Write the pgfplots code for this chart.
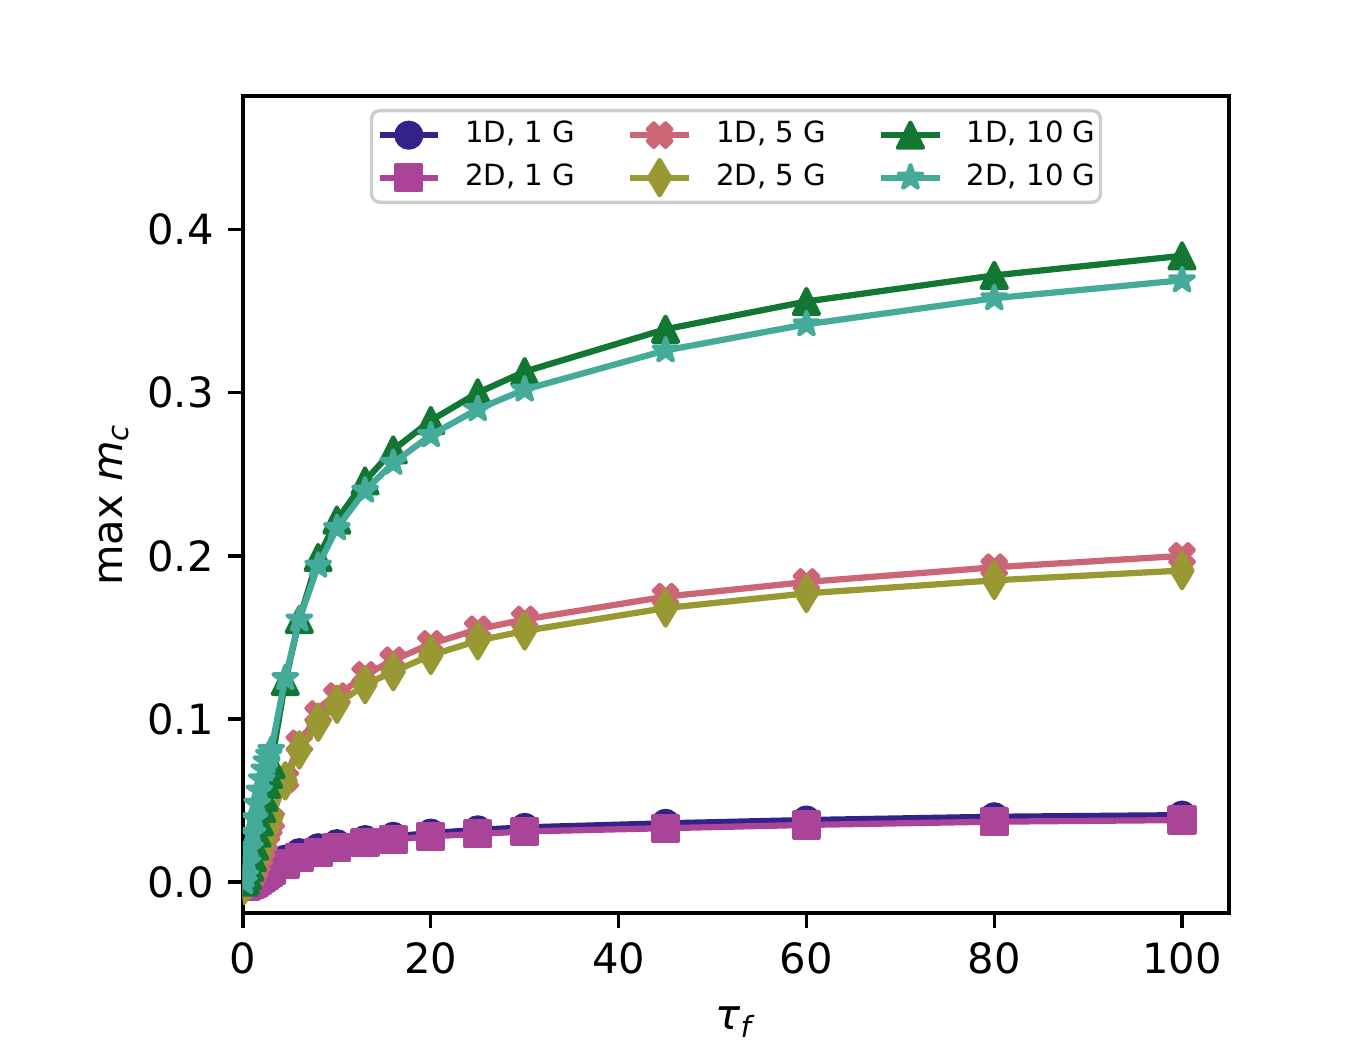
\documentclass[border=0pt]{standalone}
\usepackage{fontspec}
\setmainfont{DejaVu Sans}
\usepackage{pgfplots}
\pgfplotsset{compat=1.18}
\definecolor{cind}{HTML}{332288}
\definecolor{cpur}{HTML}{AA4499}
\definecolor{crose}{HTML}{CC6677}
\definecolor{coli}{HTML}{999933}
\definecolor{cgrn}{HTML}{117733}
\definecolor{cteal}{HTML}{44AA99}
\pgfdeclareplotmark{mpltri}{%
 \pgfpathmoveto{\pgfqpoint{0pt}{\pgfplotmarksize}}%
 \pgfpathlineto{\pgfqpoint{-\pgfplotmarksize}{-\pgfplotmarksize}}%
 \pgfpathlineto{\pgfqpoint{\pgfplotmarksize}{-\pgfplotmarksize}}%
 \pgfpathclose\pgfusepathqfillstroke}
\pgfdeclareplotmark{mpldiam}{%
 \pgfpathmoveto{\pgfqpoint{0pt}{1.4142\pgfplotmarksize}}%
 \pgfpathlineto{\pgfqpoint{0.8485\pgfplotmarksize}{0pt}}%
 \pgfpathlineto{\pgfqpoint{0pt}{-1.4142\pgfplotmarksize}}%
 \pgfpathlineto{\pgfqpoint{-0.8485\pgfplotmarksize}{0pt}}%
 \pgfpathclose\pgfusepathqfillstroke}
\pgfdeclareplotmark{mplX}{%
 \pgfpathmoveto{\pgfqpoint{0.4714\pgfplotmarksize}{-0.9428\pgfplotmarksize}}%
 \pgfpathlineto{\pgfqpoint{0.9428\pgfplotmarksize}{-0.4714\pgfplotmarksize}}%
 \pgfpathlineto{\pgfqpoint{0.4714\pgfplotmarksize}{0pt}}%
 \pgfpathlineto{\pgfqpoint{0.9428\pgfplotmarksize}{0.4714\pgfplotmarksize}}%
 \pgfpathlineto{\pgfqpoint{0.4714\pgfplotmarksize}{0.9428\pgfplotmarksize}}%
 \pgfpathlineto{\pgfqpoint{0pt}{0.4714\pgfplotmarksize}}%
 \pgfpathlineto{\pgfqpoint{-0.4714\pgfplotmarksize}{0.9428\pgfplotmarksize}}%
 \pgfpathlineto{\pgfqpoint{-0.9428\pgfplotmarksize}{0.4714\pgfplotmarksize}}%
 \pgfpathlineto{\pgfqpoint{-0.4714\pgfplotmarksize}{0pt}}%
 \pgfpathlineto{\pgfqpoint{-0.9428\pgfplotmarksize}{-0.4714\pgfplotmarksize}}%
 \pgfpathlineto{\pgfqpoint{-0.4714\pgfplotmarksize}{-0.9428\pgfplotmarksize}}%
 \pgfpathlineto{\pgfqpoint{0pt}{-0.4714\pgfplotmarksize}}%
 \pgfpathclose\pgfusepathqfillstroke}
\pgfdeclareplotmark{mplstar}{%
 \pgfpathmoveto{\pgfpointpolar{90}{\pgfplotmarksize}}%
 \pgfpathlineto{\pgfpointpolar{126}{0.381966\pgfplotmarksize}}%
 \pgfpathlineto{\pgfpointpolar{162}{\pgfplotmarksize}}%
 \pgfpathlineto{\pgfpointpolar{198}{0.381966\pgfplotmarksize}}%
 \pgfpathlineto{\pgfpointpolar{234}{\pgfplotmarksize}}%
 \pgfpathlineto{\pgfpointpolar{270}{0.381966\pgfplotmarksize}}%
 \pgfpathlineto{\pgfpointpolar{306}{\pgfplotmarksize}}%
 \pgfpathlineto{\pgfpointpolar{342}{0.381966\pgfplotmarksize}}%
 \pgfpathlineto{\pgfpointpolar{18}{\pgfplotmarksize}}%
 \pgfpathlineto{\pgfpointpolar{54}{0.381966\pgfplotmarksize}}%
 \pgfpathclose\pgfusepathqfillstroke}
\pgfplotsset{
 base/.style={line width=1.5pt, line join=round, mark size=3pt, mark options={solid, line width=1pt}},
 sA/.style={base, color=cind, mark=*},
 sB/.style={base, color=cpur, mark=square*},
 sC/.style={base, color=crose, mark=mplX},
 sD/.style={base, color=coli, mark=mpldiam},
 sE/.style={base, color=cgrn, mark=mpltri},
 sF/.style={base, color=cteal, mark=mplstar},
}
\pgfplotstableread{
x     a       b       c       d       e       f
0.1  -0.002  -0.003  -0.002  -0.002   0.000   0.000
0.25 -0.002  -0.003  -0.001  -0.001   0.001   0.004
0.5  -0.001  -0.002   0.000   0.001   0.004   0.012
0.75 -0.001  -0.0015  0.002   0.003   0.009   0.021
1.0   0.000  -0.001   0.005   0.006   0.015   0.030
1.25  0.001   0.000   0.008   0.010   0.022   0.039
1.5   0.002   0.001   0.012   0.014   0.030   0.048
1.75  0.003   0.002   0.016   0.018   0.037   0.056
2.0   0.004   0.003   0.020   0.022   0.045   0.063
2.25  0.005   0.004   0.025   0.027   0.052   0.069
2.5   0.006   0.005   0.030   0.032   0.060   0.074
2.75  0.0075  0.006   0.034   0.036   0.066   0.078
3.0   0.009   0.007   0.038   0.040   0.072   0.081
4.5   0.014   0.011   0.063   0.062   0.123   0.125
6     0.018   0.015   0.085   0.081   0.161   0.161
8     0.021   0.018   0.103   0.098   0.199   0.194
10    0.0235  0.021   0.114   0.109   0.222   0.217
13    0.026   0.024   0.127   0.121   0.246   0.240
16    0.028   0.026   0.136   0.129   0.265   0.257
20    0.030   0.028   0.146   0.139   0.283   0.274
25    0.032   0.0295  0.155   0.148   0.300   0.290
30    0.0335  0.031   0.161   0.154   0.313   0.302
45    0.036   0.033   0.175   0.168   0.339   0.326
60    0.038   0.035   0.184   0.177   0.356   0.342
80    0.040   0.037   0.193   0.185   0.372   0.358
100   0.041   0.038   0.200   0.191   0.384   0.369
}\datatable
\begin{document}
\begin{tikzpicture}
\useasboundingbox (0,0) rectangle (324pt,252pt);
\begin{axis}[
 at={(58.32pt,32.88pt)}, anchor=south west,
 scale only axis, width=236.64pt, height=196.08pt,
 xmin=0, xmax=105, ymin=-0.019, ymax=0.482,
 xtick={0,20,40,60,80,100},
 ytick={0,0.1,0.2,0.3,0.4},
 yticklabel style={/pgf/number format/.cd, fixed, fixed zerofill, precision=1},
 /pgf/number format/assume math mode=true,
 tick label style={font=\fontsize{10}{12}\selectfont},
 tick align=outside, major tick length=3.5pt,
 every tick/.style={black, line width=0.8pt},
 xtick pos=bottom, ytick pos=left,
 axis line style={line width=0.8pt},
 clip marker paths=true,
 xlabel={\textit{τ}\textsubscript{\textit{f}}},
 ylabel={max \textit{m}\textsubscript{\textit{c}}},
 every axis x label/.style={at={([yshift=-26.2pt]axis description cs:0.5,0)}, anchor=center, font=\fontsize{10}{12}\selectfont},
 every axis y label/.style={at={([xshift=-30.9pt]axis description cs:0,0.5)}, anchor=center, rotate=90, font=\fontsize{10}{12}\selectfont},
 legend columns=3,
 legend image code/.code={\draw[mark repeat=2,mark phase=2] plot coordinates {(0pt,0pt) (7pt,0pt) (14pt,0pt)};},
 legend style={at={(0.5,1)}, anchor=north, yshift=-3.1pt,
   draw=black!20, line width=0.8pt, fill=white,
   rounded corners=2pt, font=\fontsize{7}{8.4}\selectfont,
   inner xsep=1.2pt, inner ysep=0.8pt,
   nodes={inner xsep=0pt, inner ysep=1.75pt, text depth=0.15em},
   /tikz/every odd column/.append style={column sep=5.8pt},
   /tikz/every even column/.append style={column sep=12.5pt}},
]
\addlegendimage{sA}\addlegendentry{1D, 1 G}
\addlegendimage{sC}\addlegendentry{1D, 5 G}
\addlegendimage{sE}\addlegendentry{1D, 10 G}
\addlegendimage{sB}\addlegendentry{2D, 1 G}
\addlegendimage{sD}\addlegendentry{2D, 5 G}
\addlegendimage{sF}\addlegendentry{2D, 10 G}
\addplot[sA, forget plot] table[x=x, y=a] {\datatable};
\addplot[sB, forget plot] table[x=x, y=b] {\datatable};
\addplot[sC, forget plot] table[x=x, y=c] {\datatable};
\addplot[sD, forget plot] table[x=x, y=d] {\datatable};
\addplot[sE, forget plot] table[x=x, y=e] {\datatable};
\addplot[sF, forget plot] table[x=x, y=f] {\datatable};
\end{axis}
\end{tikzpicture}
\end{document}
